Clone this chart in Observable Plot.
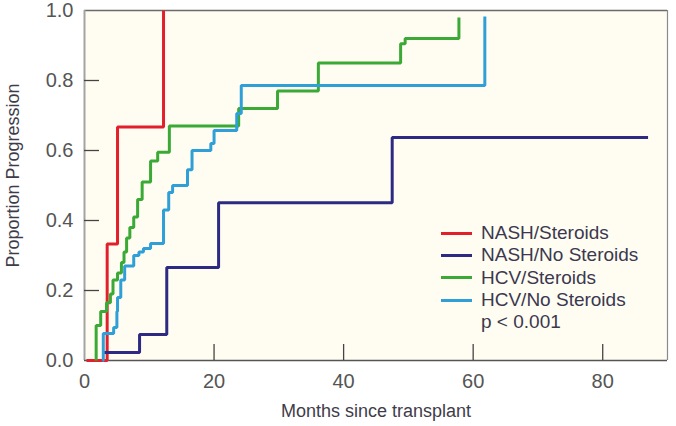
<!DOCTYPE html>
<html>
<head>
<meta charset="utf-8">
<script src="https://cdn.jsdelivr.net/npm/d3@7"></script>
<script src="https://cdn.jsdelivr.net/npm/@observablehq/plot@0.6"></script>
<style>
  body { margin: 0; background: #ffffff; }
  #wrap { position: relative; width: 676px; height: 426px; font-family: "Liberation Sans", Arial, sans-serif; }
  #legend { position: absolute; left: 441px; top: 222px; font-size: 19px; color: #3b3850; }
  #legend .row { height: 22.3px; line-height: 22px; display: flex; align-items: center; white-space: nowrap; }
  #legend .sw { width: 31px; height: 3px; margin-right: 9px; }
  #legend .note { margin-left: 40px; }
</style>
</head>
<body>
<div id="wrap"><div id="legend"></div></div>
<script>
// Series names and colours
const seriesNames = ["NASH/Steroids", "NASH/No Steroids", "HCV/Steroids", "HCV/No Steroids"];
const seriesColors = ["#e2202c", "#2d2a84", "#3aa935", "#2f9fd8"];
const pNote = "p < 0.001";

// Kaplan-Meier style step data (months since transplant, cumulative proportion)
const nashSteroidsMonths = [0.3, 3.5, 5.1, 12.2];
const nashSteroidsValues = [0, 0.333, 0.667, 1.0];

const nashNoSteroidsMonths = [2.8, 8.5, 12.7, 20.7, 47.5, 87];
const nashNoSteroidsValues = [0.023, 0.074, 0.266, 0.451, 0.637, 0.637];

const hcvSteroidsMonths = [1.8, 1.8, 2.5, 3.4, 4.0, 4.4, 5.1, 5.7, 6.1, 6.5, 7.0, 7.6, 8.2, 8.9, 10.2, 11.3, 13.1, 23.8, 29.8, 36.1, 48.8, 49.5, 57.8];
const hcvSteroidsValues = [0, 0.10, 0.14, 0.165, 0.19, 0.23, 0.25, 0.28, 0.31, 0.35, 0.38, 0.41, 0.46, 0.51, 0.57, 0.595, 0.67, 0.72, 0.77, 0.85, 0.905, 0.92, 0.98];

const hcvNoSteroidsMonths = [2.8, 2.9, 4.5, 5.0, 5.1, 5.6, 6.2, 7.6, 8.4, 9.1, 10.2, 12.2, 13.0, 13.6, 15.9, 16.6, 19.5, 20.0, 23.5, 24.2, 61.8];
const hcvNoSteroidsValues = [0, 0.077, 0.094, 0.14, 0.18, 0.23, 0.27, 0.30, 0.31, 0.32, 0.334, 0.43, 0.48, 0.50, 0.545, 0.60, 0.62, 0.657, 0.706, 0.786, 0.983];

// Axis ticks and labels
const xTicks = [0, 20, 40, 60, 80];
const yTicks = [0, 0.2, 0.4, 0.6, 0.8, 1.0];
const xLabel = "Months since transplant";
const yLabel = "Proportion Progression";

const allMonths = [nashSteroidsMonths, nashNoSteroidsMonths, hcvSteroidsMonths, hcvNoSteroidsMonths];
const allValues = [nashSteroidsValues, nashNoSteroidsValues, hcvSteroidsValues, hcvNoSteroidsValues];
const rows = [];
seriesNames.forEach((name, i) => {
  allMonths[i].forEach((m, j) => rows.push({series: name, month: m, value: allValues[i][j]}));
});

const fmt = d3.format(".1f");
const chart = Plot.plot({
  width: 676,
  height: 426,
  marginLeft: 84,
  marginRight: 9,
  marginTop: 10,
  marginBottom: 66,
  style: {fontFamily: '"Liberation Sans", Arial, sans-serif', fontSize: "18px", background: "transparent", color: "#555"},
  x: {domain: [0, 90], axis: null},
  y: {domain: [0, 1], axis: null},
  color: {domain: seriesNames, range: seriesColors},
  marks: [
    Plot.frame({fill: "#fffdf2", stroke: null}),
    Plot.ruleY([1], {stroke: "#6e6a6a", strokeWidth: 1.5}),
    Plot.ruleX([90], {stroke: "#8a8a8a", strokeWidth: 1.2}),
    Plot.ruleX([0], {stroke: "#a3a3a3", strokeWidth: 2}),
    Plot.ruleY([0], {stroke: "#555", strokeWidth: 1.5}),
    Plot.tickX(xTicks.slice(1), {x: d => d, stroke: "#444", strokeWidth: 1.3, insetTop: 334}),
    Plot.tickY(yTicks.slice(1, 5), {y: d => d, stroke: "#444", strokeWidth: 1.3, insetRight: 568}),
    Plot.text(xTicks, {x: d => d, text: d => String(d), frameAnchor: "bottom", lineAnchor: "middle", dy: 21, fill: "#555", fontSize: 20}),
    Plot.text(yTicks, {y: d => d, text: d => fmt(d), frameAnchor: "left", textAnchor: "end", lineAnchor: "middle", dx: -11, fill: "#555", fontSize: 20}),
    Plot.text([xLabel], {frameAnchor: "bottom", lineAnchor: "middle", dy: 51, fill: "#3f3c4a", fontSize: 18}),
    Plot.text([yLabel], {frameAnchor: "left", textAnchor: "middle", dx: -71, dy: -10, rotate: -90, fill: "#3f3c4a", fontSize: 18}),
    Plot.line(rows, {x: "month", y: "value", z: "series", stroke: "series", strokeWidth: 3, curve: "step-after", strokeLinejoin: "miter", strokeLinecap: "butt"})
  ]
});
const wrap = document.getElementById("wrap");
wrap.insertBefore(chart, wrap.firstChild);

const legend = document.getElementById("legend");
seriesNames.forEach((name, i) => {
  const row = document.createElement("div");
  row.className = "row";
  row.innerHTML = `<span class="sw" style="background:${seriesColors[i]}"></span><span>${name}</span>`;
  legend.appendChild(row);
});
const note = document.createElement("div");
note.className = "row";
note.innerHTML = `<span class="note">${pNote}</span>`;
legend.appendChild(note);
</script>
</body>
</html>
